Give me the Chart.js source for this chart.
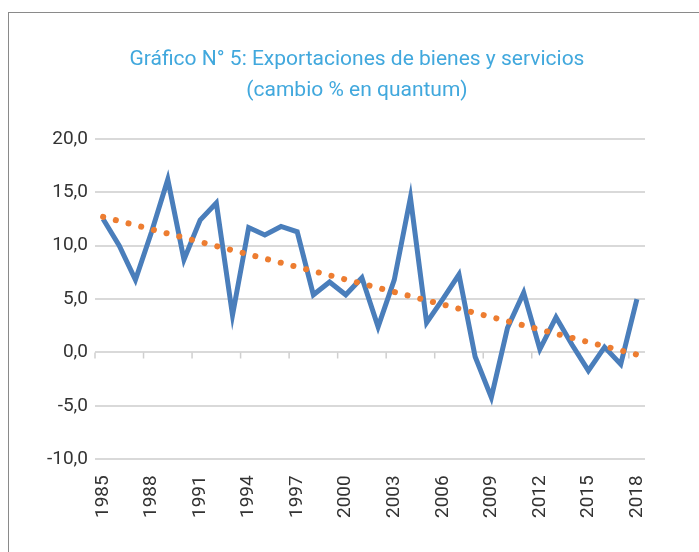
<!DOCTYPE html>
<html>
<head>
<meta charset="utf-8">
<script src="https://cdn.jsdelivr.net/npm/chart.js@4"></script>
<style>
  html, body { margin: 0; padding: 0; background: #fff; }
  #wrap { position: relative; width: 699px; height: 552px; overflow: hidden; }
  #frame { position: absolute; left: 8px; top: 12px; width: 720px; height: 600px; border: 1.5px solid #8a8a8a; }
  canvas { position: absolute; left: 0; top: 0; }
</style>
</head>
<body>
<div id="wrap">
  <div id="frame"></div>
  <canvas id="myChart" width="699" height="552"></canvas>
</div>
<script>
const years = ["1985","1986","1987","1988","1989","1990","1991","1992","1993","1994",
  "1995","1996","1997","1998","1999","2000","2001","2002","2003","2004",
  "2005","2006","2007","2008","2009","2010","2011","2012","2013","2014",
  "2015","2016","2017","2018"];
const exportsChange = [12.5, 10.0, 6.8, 11.3, 16.2, 8.7, 12.4, 14.0, 3.5, 11.7,
  11.0, 11.8, 11.3, 5.4, 6.6, 5.4, 7.0, 2.4, 6.8, 14.5,
  2.8, 5.0, 7.3, -0.4, -4.2, 2.3, 5.6, 0.3, 3.3, 0.7,
  -1.7, 0.5, -1.1, 5.0];
const trendStart = 12.7;
const trendEnd = -0.2;
const titleLines = ["Gráfico N° 5: Exportaciones de bienes y servicios", "(cambio % en quantum)"];

const fontFamily = "Roboto, 'Liberation Sans', sans-serif";

// small tick marks on the zero line, every 3 categories
const zeroTicks = {
  id: "zeroTicks",
  beforeDatasetsDraw(chart) {
    const x = chart.scales.x, y = chart.scales.y;
    const ctx = chart.ctx;
    const catW = (x.right - x.left) / years.length;
    const y0 = y.getPixelForValue(0);
    ctx.save();
    ctx.strokeStyle = "#cfcfcf";
    ctx.lineWidth = 1.5;
    for (let i = 0; i <= years.length; i += 3) {
      const px = x.left + i * catW;
      ctx.beginPath();
      ctx.moveTo(px, y0);
      ctx.lineTo(px, y0 + 6);
      ctx.stroke();
    }
    ctx.restore();
  }
};

new Chart(document.getElementById("myChart").getContext("2d"), {
  type: "line",
  data: {
    labels: years,
    datasets: [
      {
        data: exportsChange,
        borderColor: "#4a7ebb",
        borderWidth: 5,
        pointRadius: 0,
        tension: 0,
        borderJoinStyle: "miter",
        order: 1
      },
      {
        data: [{x: years[0], y: trendStart}, {x: years[years.length - 1], y: trendEnd}],
        borderColor: "#ed7d31",
        borderWidth: 6,
        borderDash: [0.1, 13],
        borderCapStyle: "round",
        pointRadius: 0,
        order: 0
      }
    ]
  },
  options: {
    responsive: false,
    animation: false,
    layout: { padding: { left: 15, right: 0, top: 0, bottom: 18 } },
    plugins: {
      legend: { display: false },
      tooltip: { enabled: false },
      title: {
        display: true,
        text: titleLines,
        color: "#41a8dd",
        font: { family: fontFamily, size: 21, weight: "normal", lineHeight: 1.45 },
        padding: { top: 45, bottom: 33 }
      }
    },
    scales: {
      x: {
        offset: true,
        grid: { display: false, drawTicks: false },
        border: { display: false },
        ticks: {
          autoSkip: false,
          maxRotation: 90,
          minRotation: 90,
          color: "#333",
          padding: 16,
          font: { family: fontFamily, size: 19 },
          callback: (v, i) => (i % 3 === 0 ? years[i] : "")
        }
      },
      y: {
        min: -10,
        max: 20,
        afterFit: (s) => { s.width = 80; },
        grid: { color: "#d9d9d9", lineWidth: 2, drawTicks: false },
        border: { display: false },
        ticks: {
          stepSize: 5,
          color: "#333",
          padding: 7,
          font: { family: fontFamily, size: 19 },
          callback: (v) => v.toFixed(1).replace(".", ",")
        }
      },
      // empty right-hand space, keeps the title centred like the original
      yRight: {
        position: "right",
        afterFit: (s) => { s.width = 54; },
        grid: { display: false, drawTicks: false },
        border: { display: false },
        ticks: { display: false }
      }
    }
  },
  plugins: [zeroTicks]
});
</script>
</body>
</html>
